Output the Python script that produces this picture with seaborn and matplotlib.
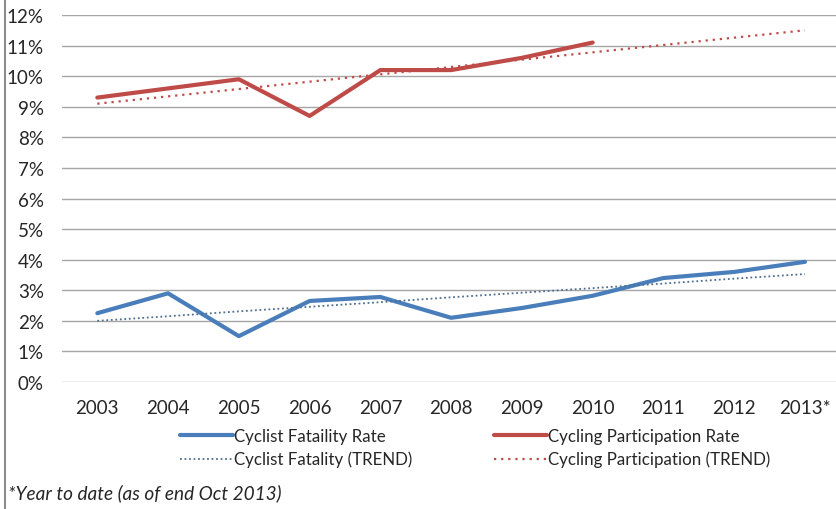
import numpy as np
import pandas as pd
import seaborn as sns
import matplotlib.pyplot as plt
from matplotlib.lines import Line2D
from matplotlib.ticker import PercentFormatter

years = ["2003", "2004", "2005", "2006", "2007", "2008", "2009", "2010", "2011", "2012", "2013*"]
fatality = [2.25, 2.9, 1.5, 2.65, 2.78, 2.1, 2.42, 2.82, 3.4, 3.6, 3.93]
participation = [9.3, 9.6, 9.9, 8.7, 10.2, 10.2, 10.6, 11.1, None, None, None]
fatality_trend = [2.0, 2.15, 2.31, 2.46, 2.61, 2.77, 2.92, 3.07, 3.22, 3.38, 3.53]
participation_trend = [9.1, 9.34, 9.58, 9.82, 10.06, 10.3, 10.54, 10.78, 11.02, 11.26, 11.5]

blue = "#4A7EBB"
red = "#BE4B48"

sns.set_style("white")
plt.rcParams["font.family"] = ["Lato", "DejaVu Sans"]

df = pd.DataFrame({
    "x": range(len(years)),
    "fat": fatality,
    "part": participation,
    "fat_tr": fatality_trend,
    "part_tr": participation_trend,
})

fig = plt.figure(figsize=(8.37, 5.10), dpi=100)
ax = fig.add_axes([0.074, 0.249, 0.93, 0.7196])

sns.lineplot(data=df, x="x", y="fat", ax=ax, color=blue, lw=3.0, label="Cyclist Fataility Rate")
sns.lineplot(data=df, x="x", y="fat_tr", ax=ax, color="#4F6F90", lw=1.3, ls=(0, (1, 1.5)),
             label="Cyclist Fatality (TREND)")
sns.lineplot(data=df.dropna(), x="x", y="part", ax=ax, color=red, lw=3.0, label="Cycling Participation Rate")
sns.lineplot(data=df, x="x", y="part_tr", ax=ax, color=red, lw=1.6, ls=(0, (1, 2.2)),
             label="Cycling Participation (TREND)")

ax.set_xlim(-0.5, len(years) - 0.5)
ax.set_ylim(0, 12)
ax.set_yticks(range(0, 13))
ax.yaxis.set_major_formatter(PercentFormatter(decimals=0))
ax.set_xticks(range(len(years)))
ax.set_xticklabels(years)
ax.set_xlabel("")
ax.set_ylabel("")
ax.grid(axis="y", color="#A6A6A6", lw=1)
ax.set_axisbelow(True)
for s in ax.spines.values():
    s.set_visible(False)
ax.tick_params(axis="y", length=0, pad=13, labelsize=13.5, colors="#262626")
ax.tick_params(axis="x", length=0, pad=12, labelsize=13.5, colors="#262626")

ax.get_legend().remove()
h, l = ax.get_legend_handles_labels()
fig.legend(h, l, ncol=2, loc="center",
           bbox_to_anchor=(0.568, 0.12), frameon=False, fontsize=12.2,
           handlelength=3.1, handletextpad=0.1, columnspacing=4.8, labelspacing=0.4,
           labelcolor="#262626")

fig.text(0.009, 0.021, "*Year to date (as of end Oct 2013)", fontsize=13.7, style="italic",
         color="#262626")
fig.add_artist(Line2D([0.006, 0.006], [0, 1], color="#8C8C8C", lw=1.5, transform=fig.transFigure))

fig.savefig("out.png", dpi=100)
